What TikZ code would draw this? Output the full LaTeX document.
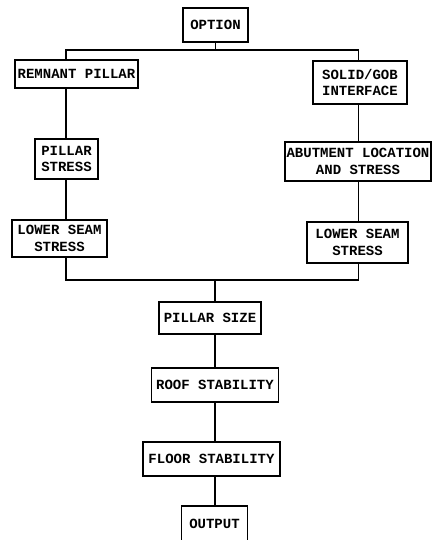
\documentclass[tikz,border=0pt]{standalone}
\usepackage{fontspec}
\setmonofont{Liberation Mono}
\usetikzlibrary{positioning,calc}

\begin{document}
\begin{tikzpicture}[x=1pt, y=-1pt,
    block/.style={rectangle, draw, line width=1.1pt, inner sep=1pt, align=center,
    font=\ttfamily\bfseries\fontsize{14}{16.5}\selectfont},
    link/.style={line width=1.1pt}]

    \useasboundingbox (0,0) rectangle (435,540);

    % Top
    \node[block, minimum width=65pt, minimum height=34pt] (option) at (215.5,25) {OPTION};

    % Left branch
    \node[block, minimum width=123pt, minimum height=28pt] (remnant) at (76.5,74) {REMNANT PILLAR};
    \node[block, minimum width=63pt, minimum height=40pt] (pstress) at (66.5,159) {PILLAR\\STRESS};
    \node[block, minimum width=95pt, minimum height=37pt] (lseamL) at (59.5,238.5) {LOWER SEAM\\STRESS};

    % Right branch
    \node[block, minimum width=94pt, minimum height=43pt] (solid) at (360,82.5) {SOLID/GOB\\INTERFACE};
    \node[block, minimum width=146pt, minimum height=39pt] (abut) at (358,161.5) {ABUTMENT LOCATION\\AND STRESS};
    \node[block, minimum width=101pt, minimum height=41pt] (lseamR) at (357.5,242.5) {LOWER SEAM\\STRESS};

    % Common path
    \node[block, minimum width=102pt, minimum height=32pt] (psize) at (210,318) {PILLAR SIZE};
    \node[block, minimum width=127pt, minimum height=34pt] (roof) at (215,385) {ROOF STABILITY};
    \node[block, minimum width=137pt, minimum height=34pt] (floor) at (211.5,459) {FLOOR STABILITY};
    \node[block, minimum width=66pt, minimum height=36pt] (output) at (214.5,524) {OUTPUT};

    % Columns and junctions
    \coordinate (lcol) at (66,0);
    \coordinate (rcol) at (358.5,0);
    \coordinate (mcol) at (215,0);
    \coordinate (split) at (215.5,50);
    \coordinate (merge) at (215,280);

    \draw[link] (option) -- (split);
    \draw[link] (remnant.north -| lcol) |- (split) -| (solid.north -| rcol);

    \draw[link] (remnant.south -| lcol) -- (pstress.north -| lcol);
    \draw[link] (pstress.south -| lcol) -- (lseamL.north -| lcol);

    \draw[link] (solid.south -| rcol) -- (abut.north -| rcol);
    \draw[link] (abut.south -| rcol) -- (lseamR.north -| rcol);

    \draw[link] (lseamL.south -| lcol) |- (merge) -| (lseamR.south -| rcol);
    \draw[link] (merge) -- (psize.north -| mcol);
    \draw[link] (psize.south -| mcol) -- (roof.north -| mcol);
    \draw[link] (roof.south -| mcol) -- (floor.north -| mcol);
    \draw[link] (floor.south -| mcol) -- (output.north -| mcol);
\end{tikzpicture}
\end{document}
